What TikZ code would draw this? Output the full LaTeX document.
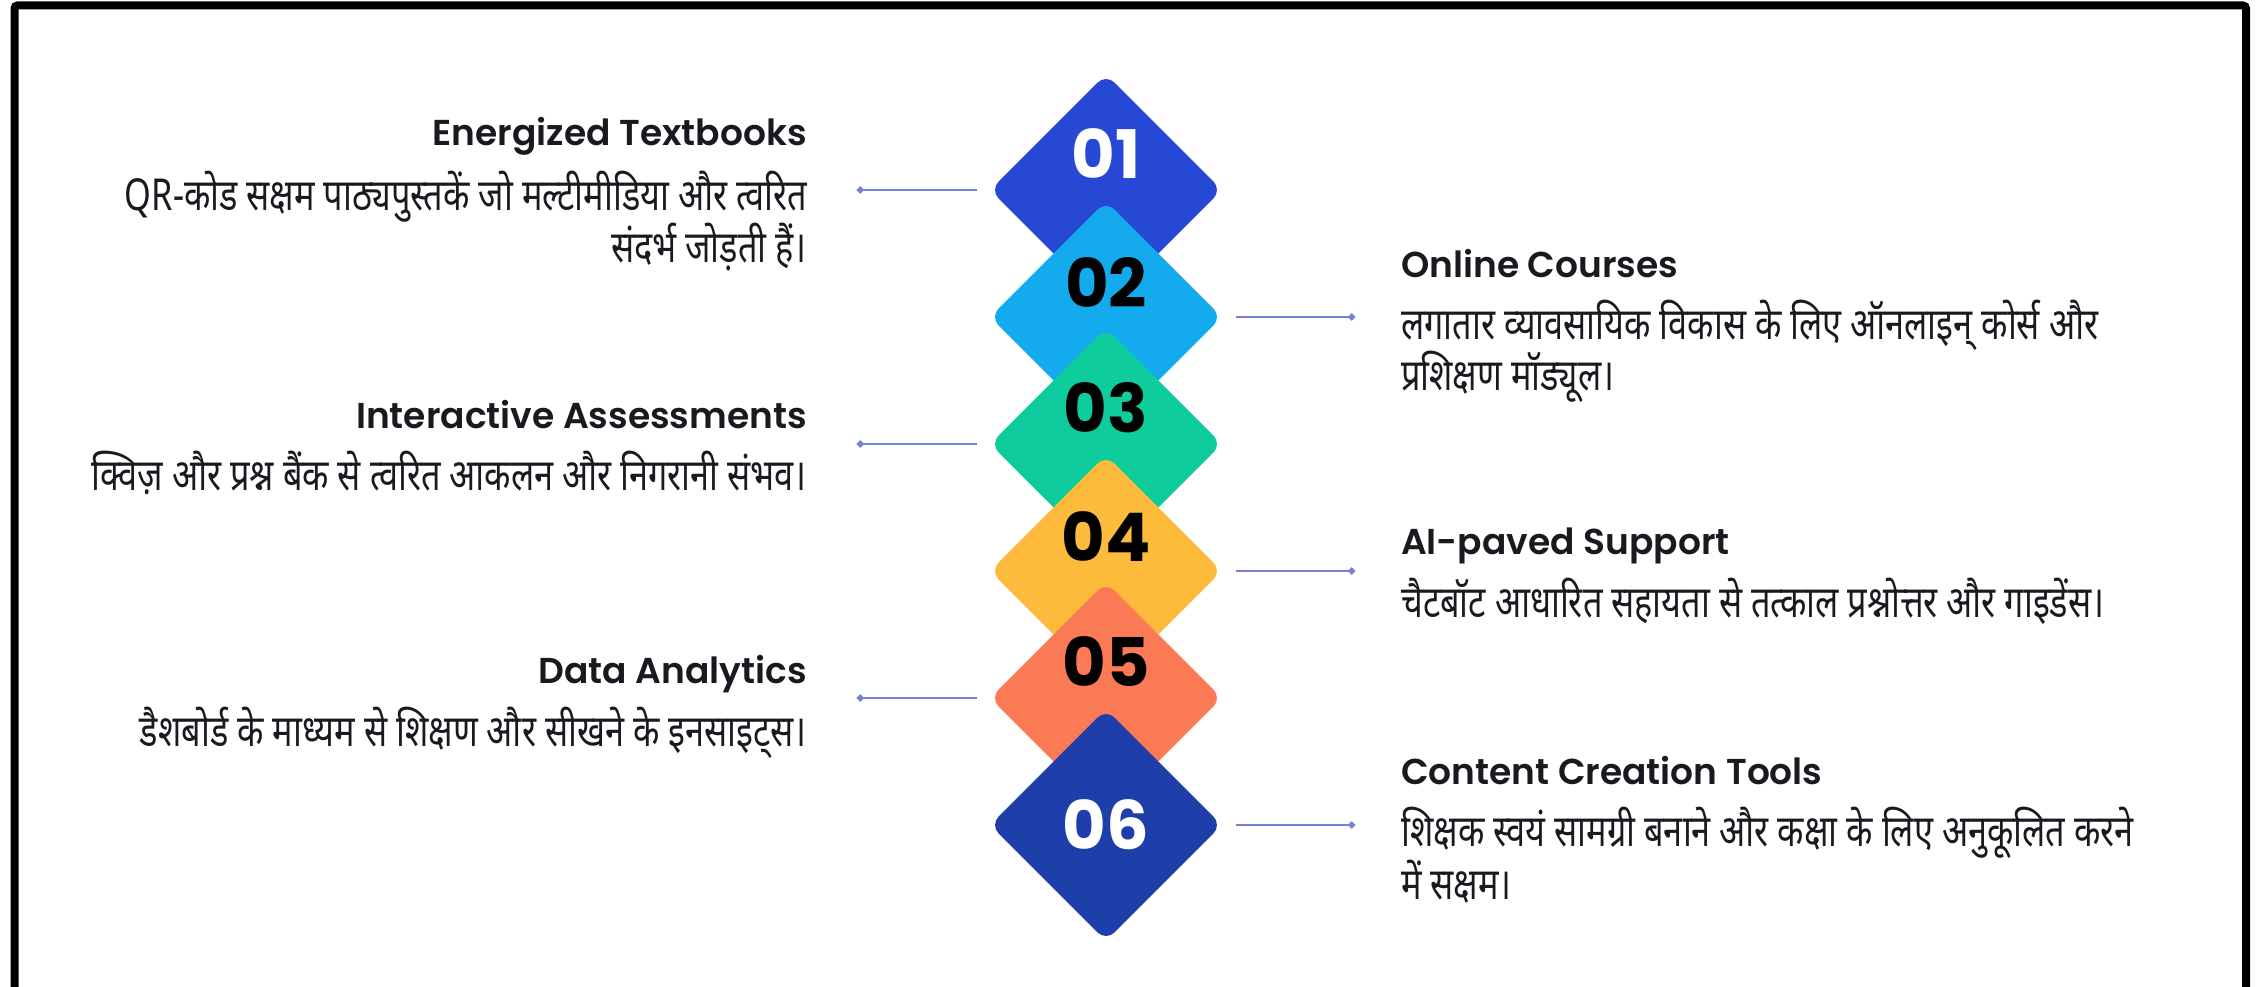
\documentclass[tikz,border=0pt]{standalone}
\usepackage{fontspec}
\usepackage{tikz}
\usetikzlibrary{shapes.geometric,arrows.meta,positioning}
\setmainfont{Poppins}
\newfontfamily\ttlfont{Poppins SemiBold}
\newfontfamily\hindi[Script=Devanagari,FakeStretch=0.78]{Noto Sans}

\definecolor{gemA}{RGB}{39,72,212}
\definecolor{gemB}{RGB}{19,170,238}
\definecolor{gemC}{RGB}{14,204,156}
\definecolor{gemD}{RGB}{253,187,60}
\definecolor{gemE}{RGB}{250,122,86}
\definecolor{gemF}{RGB}{30,62,170}
\definecolor{wire}{RGB}{120,130,208}
\definecolor{ink}{RGB}{25,25,32}

% title line and closing strut of every text block
\newcommand{\ttl}[1]{{\ttlfont\fontsize{36}{48}\selectfont\rule{0pt}{56pt}#1}\\[14pt]}
\newcommand{\lst}{\rule[-24pt]{0pt}{0pt}}

\begin{document}
\begin{tikzpicture}[x=1pt,y=-1pt]
        \tikzstyle{gem}=[diamond,aspect=1,minimum width=232pt,minimum height=232pt,inner sep=0pt,rounded corners=12pt,node distance=127pt]
        \tikzstyle{num}=[font=\bfseries\fontsize{67}{67}\selectfont,inner sep=0pt]
        \tikzstyle{item}=[text=ink,inner sep=0pt,font=\hindi\fontsize{44}{48}\selectfont]
        \tikzstyle{wire}=[draw=wire,line width=2.8pt]

        \useasboundingbox (0,0) rectangle (2260,987);
        \draw[line width=8pt,rounded corners=3pt] (14.5,5.5) rectangle (2246,1010);

        % the stack
        \node[gem,fill=gemA] (D1) at (1106,190) {};
        \node[num,white] at ([yshift=36pt]D1.center) {01};
        \node[gem,fill=gemB] (D2) [below of=D1] {};
        \node[num,black] at ([yshift=34pt]D2.center) {02};
        \node[gem,fill=gemC] (D3) [below of=D2] {};
        \node[num,black] at ([yshift=36pt]D3.center) {03};
        \node[gem,fill=gemD] (D4) [below of=D3] {};
        \node[num,black] at ([yshift=34pt]D4.center) {04};
        \node[gem,fill=gemE] (D5) [below of=D4] {};
        \node[num,black] at ([yshift=36pt]D5.center) {05};
        \node[gem,fill=gemF] (D6) [below of=D5] {};
        \node[num,white] at (D6.center) {06};

        % left side
        \coordinate (L1) at (857,190);
        \coordinate (L3) at (857,444);
        \coordinate (L5) at (857,698);
        \draw[wire,{Circle[length=6.5pt]}-] (L1) -- ([xshift=-13pt]D1.west);
        \draw[wire,{Circle[length=6.5pt]}-] (L3) -- ([xshift=-13pt]D3.west);
        \draw[wire,{Circle[length=6.5pt]}-] (L5) -- ([xshift=-13pt]D5.west);
        \node[item,anchor=east,align=right] (T1) at (807,188)
            {\ttl{Energized Textbooks}QR-कोड सक्षम पाठ्यपुस्तकें जो मल्टीमीडिया और त्वरित\\संदर्भ जोड़ती हैं।\lst};
        \node[item,anchor=east,align=right] (T3) at (807,443)
            {\ttl{Interactive Assessments}क्विज़ और प्रश्न बैंक से त्वरित आकलन और निगरानी संभव।\lst};
        \node[item,anchor=east,align=right] (T5) at (807,699)
            {\ttl{Data Analytics}डैशबोर्ड के माध्यम से शिक्षण और सीखने के इनसाइट्स।\lst};

        % right side
        \coordinate (R2) at (1355,317);
        \coordinate (R4) at (1355,571);
        \coordinate (R6) at (1355,825);
        \draw[wire,-{Circle[length=6.5pt]}] ([xshift=14pt]D2.east) -- (R2);
        \draw[wire,-{Circle[length=6.5pt]}] ([xshift=14pt]D4.east) -- (R4);
        \draw[wire,-{Circle[length=6.5pt]}] ([xshift=14pt]D6.east) -- (R6);
        \node[item,anchor=west,align=left] (T2) at (1401,318)
            {\ttl{Online Courses}लगातार व्यावसायिक विकास के लिए ऑनलाइन् कोर्स और\\प्रशिक्षण मॉड्यूल।\lst};
        \node[item,anchor=west,align=left] (T4) at (1401,570)
            {\ttl{AI-paved Support}चैटबॉट आधारित सहायता से तत्काल प्रश्नोत्तर और गाइडेंस।\lst};
        \node[item,anchor=west,align=left] (T6) at (1401,826)
            {\ttl{Content Creation Tools}शिक्षक स्वयं सामग्री बनाने और कक्षा के लिए अनुकूलित करने\\में सक्षम।\lst};
\end{tikzpicture}
\end{document}
